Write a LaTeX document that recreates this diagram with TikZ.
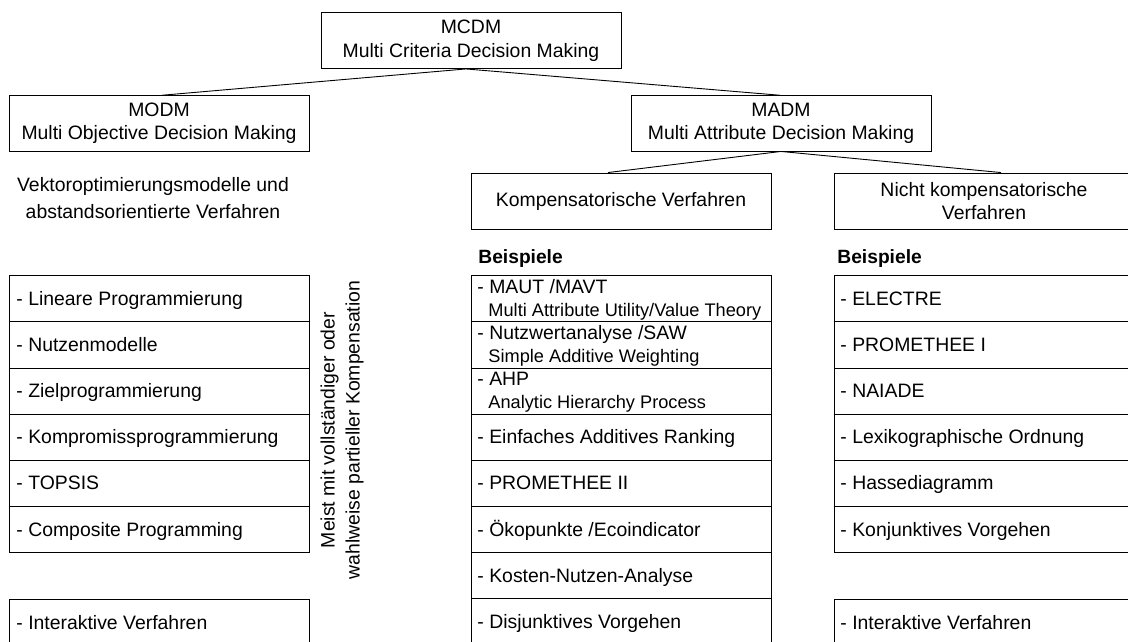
\documentclass[tikz,border=0pt]{standalone}
\usepackage{fontspec}
\setmainfont{Liberation Sans}
\usetikzlibrary{calc}
\begin{document}
\begin{tikzpicture}[x=1pt,y=-1pt, line width=0.9pt,
  every node/.style={font=\fontsize{19.4}{23}\selectfont},
  hdr/.style={draw, minimum width=300pt, minimum height=56pt, align=center, inner sep=0pt},
  rowbox/.style={draw, minimum width=300pt, minimum height=46.15pt, anchor=north west, inner sep=0pt},
  txt/.style={anchor=base west, inner sep=0pt},
  subtxt/.style={anchor=base west, inner sep=0pt, font=\fontsize{18.2}{21}\selectfont},
  bsp/.style={anchor=base west, inner sep=0pt, font=\bfseries\fontsize{19.2}{23}\selectfont},
  conn/.style={line width=0.9pt}]
\useasboundingbox (0,0) rectangle (1128,642);
\clip (0,0) rectangle (1128,642);

% header boxes
\node[hdr, font=\fontsize{19.4}{24}\selectfont] (mcdm) at (471,40.5) {MCDM\\Multi Criteria Decision Making};
\node[hdr, minimum height=55.3pt] (modm) at (159,123.35) {MODM\\Multi Objective Decision Making};
\node[hdr, minimum height=55.3pt] (madm) at (781,123.35) {MADM\\Multi Attribute Decision Making};
\node[hdr] (komp) at (621,201) {Kompensatorische Verfahren};
\node[hdr] (nicht) at (984,201) {Nicht kompensatorische\\Verfahren};
\node[align=center, font=\fontsize{19.4}{27}\selectfont] (vekt) at (153,198) {Vektoroptimierungsmodelle und\\abstandsorientierte Verfahren};

% connectors
\draw[conn] ($(mcdm.south)+(-5,0)$) -- ($(modm.north)+(3,0)$);
\draw[conn] ($(mcdm.south)+(-5,0)$) -- ($(madm.north)+(-1,0)$);
\draw[conn] (madm.south) -- ($(komp.north)+(-13,0)$);
\draw[conn] (madm.south) -- ($(nicht.north)+(17,0)$);

% Beispiele
\node[bsp] (bspM) at (478,263) {Beispiele};
\node[bsp] (bspR) at (837,263) {Beispiele};

% left list
\foreach \t [count=\i] in {Lineare Programmierung, Nutzenmodelle, Zielprogrammierung, Kompromissprogrammierung, TOPSIS, Composite Programming}{
  \node[rowbox] (L\i) at (9,{275.3+46.15*(\i-1)}) {};
  \node[txt] (Lt\i) at ($(L\i.north west)+(7,30)$) {- \t};
}
\node[rowbox] (L7) at (9,599) {};
\node[txt] (Lt7) at ($(L7.north west)+(7,30)$) {- Interaktive Verfahren};

% note
\node[rotate=90, align=center, font=\fontsize{19.4}{25}\selectfont] (note) at (342,430) {Meist mit vollständiger oder\\wahlweise partieller Kompensation};

% middle list
\foreach \i in {1,...,8}{
  \node[rowbox] (M\i) at (471,{275.3+46.15*(\i-1)}) {};
}
\node[txt] (Mt1) at ($(M1.north west)+(6,18)$) {- MAUT /MAVT};
\node[subtxt] (Ms1) at ($(M1.north west)+(17,41)$) {Multi Attribute Utility/Value Theory};
\node[txt] (Mt2) at ($(M2.north west)+(6,18)$) {- Nutzwertanalyse /SAW};
\node[subtxt] (Ms2) at ($(M2.north west)+(17,41)$) {Simple Additive Weighting};
\node[txt] (Mt3) at ($(M3.north west)+(6,18)$) {- AHP};
\node[subtxt] (Ms3) at ($(M3.north west)+(17,41)$) {Analytic Hierarchy Process};
\node[txt] (Mt4) at ($(M4.north west)+(6,30)$) {- Einfaches Additives Ranking};
\node[txt] (Mt5) at ($(M5.north west)+(6,30)$) {- PROMETHEE II};
\node[txt] (Mt6) at ($(M6.north west)+(6,30)$) {- Ökopunkte /Ecoindicator};
\node[txt] (Mt7) at ($(M7.north west)+(6,30)$) {- Kosten-Nutzen-Analyse};
\node[txt] (Mt8) at ($(M8.north west)+(6,30)$) {- Disjunktives Vorgehen};

% right list
\foreach \t [count=\i] in {ELECTRE, PROMETHEE I, NAIADE, Lexikographische Ordnung, Hassediagramm, Konjunktives Vorgehen}{
  \node[rowbox] (R\i) at (834,{275.3+46.15*(\i-1)}) {};
  \node[txt] (Rt\i) at ($(R\i.north west)+(6,30)$) {- \t};
}
\node[rowbox] (R7) at (834,599) {};
\node[txt] (Rt7) at ($(R7.north west)+(6,30)$) {- Interaktive Verfahren};
\end{tikzpicture}
\end{document}
